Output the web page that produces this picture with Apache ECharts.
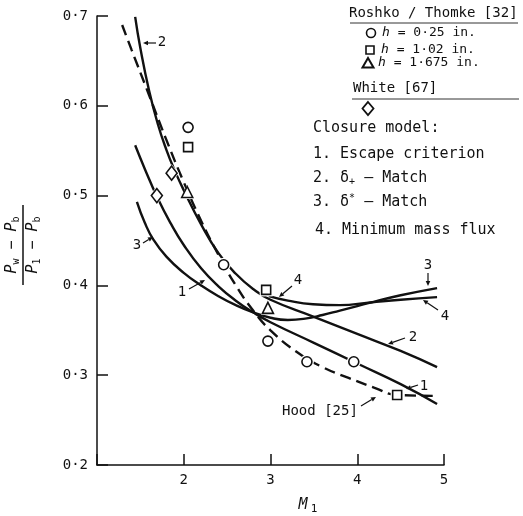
<!DOCTYPE html>
<html><head><meta charset="utf-8">
<script src="https://cdn.jsdelivr.net/npm/echarts@6/dist/echarts.min.js"></script>
<style>html,body{margin:0;padding:0;background:#fff}#c{width:523px;height:516px}</style>
</head><body><div id="c"></div><script>
// ---- data ----
const xTicks = [2, 3, 4, 5];
const yTicks = [0.2, 0.3, 0.4, 0.5, 0.6, 0.7];

// Hood [25] (dashed)
const hoodM = [1.29, 1.4, 1.6, 1.8, 2.0, 2.2, 2.4, 2.6, 2.8, 3.0, 3.3, 3.6, 3.9, 4.2, 4.46, 4.87];
const hoodP = [0.690, 0.662, 0.612, 0.562, 0.515, 0.472, 0.434, 0.400, 0.372, 0.350, 0.326, 0.309, 0.297, 0.286, 0.278, 0.277];

// 1. Escape criterion
const c1M = [1.44, 1.55, 1.7, 1.85, 2.0, 2.2, 2.4, 2.6, 2.8, 3.0, 3.5, 4.0, 4.5, 4.92];
const c1P = [0.556, 0.530, 0.497, 0.469, 0.445, 0.419, 0.399, 0.383, 0.370, 0.359, 0.336, 0.313, 0.290, 0.268];

// 2. delta+ match
const c2M = [1.44, 1.5, 1.6, 1.7, 1.8, 1.9, 2.0, 2.2, 2.4, 2.6, 2.8, 3.0, 3.5, 4.0, 4.5, 4.92];
const c2P = [0.699, 0.664, 0.617, 0.580, 0.551, 0.527, 0.506, 0.468, 0.436, 0.413, 0.396, 0.384, 0.365, 0.346, 0.327, 0.309];

// 3. delta* match
const c3M = [1.46, 1.55, 1.65, 1.8, 2.0, 2.2, 2.4, 2.6, 2.8, 3.0, 3.2, 3.4, 3.6, 3.8, 4.0, 4.2, 4.5, 4.92];
const c3P = [0.493, 0.470, 0.451, 0.432, 0.414, 0.400, 0.388, 0.378, 0.370, 0.364, 0.3615, 0.363, 0.367, 0.372, 0.377, 0.382, 0.389, 0.397];

// 4. Minimum mass flux
const c4M = [2.98, 3.2, 3.49, 3.8, 4.15, 4.5, 4.92];
const c4P = [0.388, 0.383, 0.379, 0.378, 0.381, 0.384, 0.387];

// Roshko / Thomke [32] and White [67] measurements
const circM = [2.05, 2.46, 2.97, 3.42, 3.96];
const circP = [0.576, 0.423, 0.338, 0.315, 0.315];
const sqM = [2.05, 2.95, 4.46];
const sqP = [0.554, 0.395, 0.278];
const triM = [2.04, 2.97];
const triP = [0.504, 0.375];
const diaM = [1.69, 1.86];
const diaP = [0.500, 0.525];

// ---- helpers ----
const zip = (a, b) => a.map((v, i) => [v, b[i]]);
const F = '"DejaVu Sans Mono", monospace';
const INK = '#111';

function lineSeries(m, p, dashed) {
  return {
    type: 'line', data: zip(m, p), showSymbol: false, smooth: 0.5, z: 2,
    lineStyle: { color: INK, width: 2.4, type: dashed ? [11, 6] : 'solid' }
  };
}
function haloSeries(m, p, symbol, size) {
  return {
    type: 'scatter', data: zip(m, p), symbol: symbol, symbolSize: size, z: 4, silent: true,
    itemStyle: { color: '#fff', opacity: 1 }
  };
}
function markSeries(m, p, symbol, size) {
  return {
    type: 'scatter', data: zip(m, p), symbol: symbol, symbolSize: size, z: 5,
    itemStyle: { color: '#fff', borderColor: INK, borderWidth: 1.6, opacity: 1 }
  };
}
function arrow(x1, y1, x2, y2) {
  const a = Math.atan2(y2 - y1, x2 - x1), L = 5, W = 2.3;
  const bx = x2 - L * Math.cos(a), by = y2 - L * Math.sin(a);
  return [
    { type: 'line', shape: { x1: x1, y1: y1, x2: bx, y2: by }, style: { stroke: INK, lineWidth: 1.2 } },
    { type: 'polygon', shape: { points: [[x2, y2], [bx + W * Math.sin(a), by - W * Math.cos(a)], [bx - W * Math.sin(a), by + W * Math.cos(a)]] }, style: { fill: INK } }
  ];
}
function txt(x, y, text, size, extra) {
  return { type: 'text', x: x, y: y, style: Object.assign({ text: text, font: size + 'px ' + F, fill: INK, align: 'left', verticalAlign: 'middle' }, extra || {}) };
}
const rich = {
  i: { fontFamily: F, fontSize: 15, fontStyle: 'italic', fill: INK },
  s: { fontFamily: F, fontSize: 10, fill: INK, padding: [8, 0, 0, 0] },
  u: { fontFamily: F, fontSize: 10, fill: INK, padding: [0, 0, 8, 0] },
  n: { fontFamily: F, fontSize: 15, fill: INK },
  h: { fontFamily: F, fontSize: 13, fontStyle: 'italic', fill: INK },
  m: { fontFamily: F, fontSize: 13, fill: INK }
};
function richTxt(x, y, text, extra) {
  return { type: 'text', x: x, y: y, style: Object.assign({ text: text, rich: rich, align: 'left', verticalAlign: 'middle', fill: INK, fontFamily: F, fontSize: 15 }, extra || {}) };
}

const graphics = [
  // legend
  txt(349, 13, 'Roshko / Thomke [32]', 14),
  { type: 'line', shape: { x1: 350, y1: 23, x2: 518, y2: 23 }, style: { stroke: '#333', lineWidth: 1 } },
  { type: 'circle', shape: { cx: 371, cy: 33, r: 4.5 }, style: { fill: '#fff', stroke: INK, lineWidth: 1.6 } },
  richTxt(382, 33, '{h|h}{m| = 0·25 in.}'),
  { type: 'rect', shape: { x: 366, y: 46, width: 8, height: 8 }, style: { fill: '#fff', stroke: INK, lineWidth: 1.6 } },
  richTxt(381, 50, '{h|h}{m| = 1·02 in.}'),
  { type: 'polygon', shape: { points: [[368, 58], [362.5, 67.5], [373.5, 67.5]] }, style: { fill: '#fff', stroke: INK, lineWidth: 2 } },
  richTxt(378, 63, '{h|h}{m| = 1·675 in.}'),
  txt(353, 88, 'White [67]', 14),
  { type: 'line', shape: { x1: 352, y1: 99, x2: 519, y2: 99 }, style: { stroke: '#333', lineWidth: 1 } },
  { type: 'polygon', shape: { points: [[368, 102], [373.5, 108.5], [368, 115], [362.5, 108.5]] }, style: { fill: '#fff', stroke: INK, lineWidth: 1.8 } },
  txt(313, 128, 'Closure model:', 15),
  txt(313, 154, '1. Escape criterion', 15),
  richTxt(313, 178, '{n|2. δ}{s|+}{n| — Match}'),
  richTxt(313, 202, '{n|3. δ}{u|*}{n| — Match}'),
  txt(315, 230, '4. Minimum mass flux', 15),
  // curve annotations
  txt(162, 42, '2', 14, { align: 'center' }),
  ...arrow(156, 43, 143, 43),
  txt(428, 265, '3', 14, { align: 'center' }),
  ...arrow(428, 273, 428, 286),
  txt(445, 316, '4', 14, { align: 'center' }),
  ...arrow(438, 310, 423, 300),
  txt(413, 337, '2', 14, { align: 'center' }),
  ...arrow(405, 338, 388, 344),
  txt(424, 386, '1', 14, { align: 'center' }),
  ...arrow(418, 385, 406, 389),
  txt(298, 280, '4', 14, { align: 'center' }),
  ...arrow(292, 286, 279, 297),
  txt(137, 245, '3', 14, { align: 'center' }),
  ...arrow(143, 243, 153, 237),
  txt(182, 292, '1', 14, { align: 'center' }),
  ...arrow(189, 289, 205, 280),
  txt(282, 411, 'Hood [25]', 14),
  ...arrow(361, 406, 376, 397),
  // y-axis title (fraction, rotated)
  { type: 'text', x: 12, y: 245, rotation: Math.PI / 2, style: { text: '{i|P}{s|w}{n| − }{i|P}{s|b}', rich: rich, align: 'center', verticalAlign: 'middle', fill: INK } },
  { type: 'line', shape: { x1: 23, y1: 205, x2: 23, y2: 285 }, style: { stroke: INK, lineWidth: 1.5 } },
  { type: 'text', x: 33, y: 245, rotation: Math.PI / 2, style: { text: '{i|P}{s|1}{n| − }{i|P}{s|b}', rich: rich, align: 'center', verticalAlign: 'middle', fill: INK } },
  // x-axis title
  { type: 'text', x: 303, y: 505, style: { text: 'M', font: 'italic 15px ' + F, fill: INK, align: 'center', verticalAlign: 'middle' } },
  { type: 'text', x: 314, y: 509, style: { text: '1', font: '11px ' + F, fill: INK, align: 'center', verticalAlign: 'middle' } }
];

const chart = echarts.init(document.getElementById('c'), null, { renderer: 'canvas' });
chart.setOption({
  animation: false,
  backgroundColor: '#fff',
  grid: { left: 97, right: 79, top: 16, bottom: 51 },
  xAxis: {
    type: 'value', min: 1, max: 5, interval: 1,
    axisLine: { show: true, onZero: false, lineStyle: { color: INK, width: 1.5 } },
    axisTick: { show: true, inside: true, length: 11, lineStyle: { color: INK, width: 1.5 } },
    splitLine: { show: false },
    axisLabel: { margin: 8, color: INK, fontFamily: F, fontSize: 14,
      formatter: v => (xTicks.indexOf(v) >= 0 ? String(v) : '') }
  },
  yAxis: {
    type: 'value', min: 0.2, max: 0.7, interval: 0.1,
    axisLine: { show: true, onZero: false, lineStyle: { color: INK, width: 1.5 } },
    axisTick: { show: true, inside: true, length: 11, lineStyle: { color: INK, width: 1.5 } },
    splitLine: { show: false },
    axisLabel: { margin: 9, color: INK, fontFamily: F, fontSize: 14,
      formatter: v => { const t = yTicks.find(q => Math.abs(q - v) < 1e-6); return t === undefined ? '' : t.toFixed(1).replace('.', '·'); } }
  },
  series: [
    lineSeries(hoodM, hoodP, true),
    lineSeries(c1M, c1P, false),
    lineSeries(c2M, c2P, false),
    lineSeries(c3M, c3P, false),
    lineSeries(c4M, c4P, false),
    haloSeries(circM, circP, 'circle', 14),
    haloSeries(sqM, sqP, 'rect', 13),
    haloSeries(triM, triP, 'triangle', 14),
    haloSeries(diaM, diaP, 'diamond', [15, 18]),
    markSeries(circM, circP, 'circle', 10),
    markSeries(sqM, sqP, 'rect', 9),
    markSeries(triM, triP, 'triangle', 11),
    markSeries(diaM, diaP, 'diamond', [11, 14])
  ],
  graphic: graphics
});
</script></body></html>
